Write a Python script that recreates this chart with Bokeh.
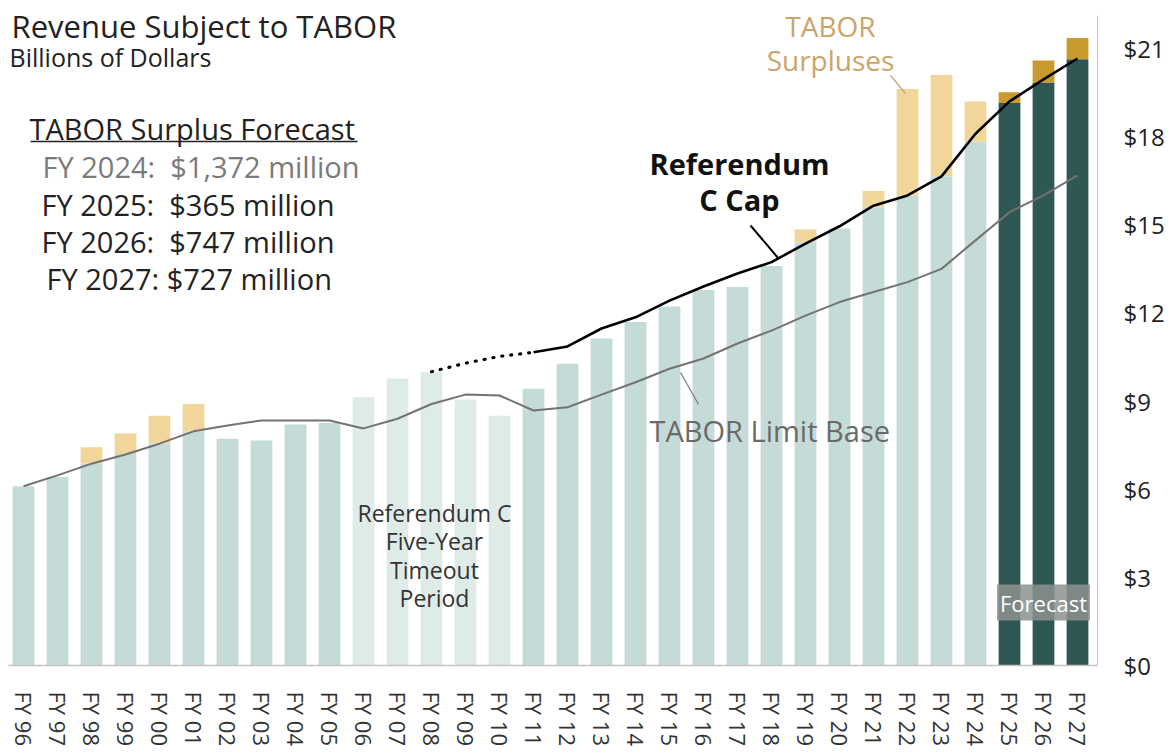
import math
from bokeh.plotting import figure
from bokeh.models import Label, FixedTicker, Range1d, NumeralTickFormatter
from bokeh.embed import file_html
from bokeh.resources import INLINE

# ---------------- data (billions of dollars) ----------------
fiscal_years = ["FY 96", "FY 97", "FY 98", "FY 99", "FY 00", "FY 01", "FY 02", "FY 03",
                "FY 04", "FY 05", "FY 06", "FY 07", "FY 08", "FY 09", "FY 10", "FY 11",
                "FY 12", "FY 13", "FY 14", "FY 15", "FY 16", "FY 17", "FY 18", "FY 19",
                "FY 20", "FY 21", "FY 22", "FY 23", "FY 24", "FY 25", "FY 26", "FY 27"]

revenue_total = [6.10, 6.42, 7.43, 7.90, 8.50, 8.90, 7.72, 7.66, 8.20, 8.25, 9.13, 9.77,
                 9.98, 9.05, 8.50, 9.42, 10.27, 11.13, 11.69, 12.22, 12.78, 12.88, 13.60,
                 14.84, 14.87, 16.15, 19.62, 20.10, 19.20, 19.51, 20.59, 21.36]

tabor_surplus = [0, 0, 0.56, 0.70, 0.94, 0.93, 0, 0, 0, 0, 0, 0, 0, 0, 0, 0, 0, 0, 0, 0,
                 0, 0, 0, 0.43, 0, 0.55, 3.62, 3.45, 1.372, 0.365, 0.747, 0.727]

tabor_limit_base = [6.10, 6.47, 6.87, 7.18, 7.55, 7.97, 8.17, 8.34, 8.34, 8.34, 8.07, 8.40,
                    8.90, 9.22, 9.19, 8.68, 8.79, 9.22, 9.64, 10.10, 10.45, 10.96, 11.40,
                    11.91, 12.37, 12.71, 13.05, 13.50, 14.47, 15.43, 16.00, 16.68]

nan = float("nan")
ref_c_cap = [nan] * 12 + [10.00, 10.29, 10.52, 10.66, 10.86, 11.47, 11.85, 12.42, 12.90,
                          13.34, 13.73, 14.36, 14.95, 15.65, 16.00, 16.65, 18.10, 19.20,
                          19.95, 20.66]

forecast_years = ["FY 25", "FY 26", "FY 27"]
timeout_years = ["FY 06", "FY 07", "FY 08", "FY 09", "FY 10"]
dotted_cap_years = ["FY 08", "FY 09", "FY 10", "FY 11"]

y_ticks = [0, 3, 6, 9, 12, 15, 18, 21]

NB = "\u00a0"
surplus_forecast_text = ["FY 2024:" + NB + " $1,372 million", "FY 2025:" + NB + " $365 million",
                         "FY 2026:" + NB + " $747 million", "FY 2027: $727 million"]

# ---------------- derived ----------------
n = len(fiscal_years)
idx = list(range(n))
base = [t - s for t, s in zip(revenue_total, tabor_surplus)]
is_fc = [fy in forecast_years for fy in fiscal_years]

C_LIGHT = "#c5dbd7"
C_DARK = "#2f5753"
C_SURP = "#f0d69a"
C_SURP_FC = "#c99a2e"
FONT = "Open Sans"

PX_X = 34.0
PX_Y = 29.38
FRAME_W = 1089
FRAME_H = 650
LEFT, TOP = 8, 15
x_start = -15.0 / PX_X
x_end = x_start + FRAME_W / PX_X
y_end = FRAME_H / PX_Y


def X(rx):
    return x_start + (rx - LEFT) / PX_X


def Y(ry):
    return (TOP + FRAME_H - ry) / PX_Y


p = figure(frame_width=FRAME_W, frame_height=FRAME_H,
           x_range=Range1d(x_start, x_end), y_range=Range1d(0, y_end),
           y_axis_location="right", toolbar_location=None, output_backend="svg",
           min_border_left=LEFT, min_border_right=1174 - LEFT - FRAME_W - 2,
           min_border_top=TOP, min_border_bottom=755 - TOP - FRAME_H - 2)
p.grid.visible = False
p.outline_line_color = None
p.background_fill_color = "white"

# bars
p.vbar(x=idx, width=0.64, bottom=0, top=base,
       fill_color=[C_DARK if f else C_LIGHT for f in is_fc], line_color=None)
s_idx = [i for i in idx if tabor_surplus[i] > 0]
p.vbar(x=s_idx, width=0.64, bottom=[base[i] for i in s_idx],
       top=[revenue_total[i] for i in s_idx],
       fill_color=[C_SURP_FC if is_fc[i] else C_SURP for i in s_idx], line_color=None)

# timeout period fade
t_idx = [fiscal_years.index(fy) for fy in timeout_years]
p.quad(left=[min(t_idx) - 0.5], right=[max(t_idx) + 0.5], bottom=[0], top=[y_end],
       fill_color="white", fill_alpha=0.45, line_color=None)

# lines
p.line(idx, tabor_limit_base, line_color="#737373", line_width=2)
d_idx = [fiscal_years.index(fy) for fy in dotted_cap_years]
p.line(d_idx, [ref_c_cap[i] for i in d_idx], line_color="black", line_width=3.2,
       line_dash="1 8", line_cap="round")
solid_idx = [i for i in idx if i >= max(d_idx)]
p.line(solid_idx, [ref_c_cap[i] for i in solid_idx], line_color="black", line_width=2.6)

# leader lines
p.segment(x0=[X(750)], y0=[Y(225)], x1=[X(778)], y1=[Y(258)], line_color="black", line_width=2)
p.segment(x0=[X(680)], y0=[Y(372)], x1=[X(698)], y1=[Y(404)], line_color="#777777", line_width=1.2)
p.segment(x0=[X(890)], y0=[Y(75)], x1=[X(905)], y1=[Y(93)], line_color="#c9a56c", line_width=1.2)
# underline of forecast heading
p.segment(x0=[X(30)], y0=[Y(141)], x1=[X(357)], y1=[Y(141)], line_color="#222222", line_width=1.5)

# axes
p.xaxis.ticker = FixedTicker(ticks=idx)
p.xaxis.major_label_overrides = {i: fy for i, fy in enumerate(fiscal_years)}
p.xaxis.major_label_orientation = "vertical"
p.xaxis.major_label_text_font = FONT
p.xaxis.major_label_text_font_size = "22px"
p.xaxis.major_label_text_color = "#333333"
p.xaxis.major_label_standoff = 20
p.xaxis.axis_line_color = "#c4c4c4"
p.xaxis.axis_line_width = 1.5
p.xaxis.major_tick_line_color = None
p.xaxis.minor_tick_line_color = None

p.yaxis.ticker = FixedTicker(ticks=y_ticks)
p.yaxis.formatter = NumeralTickFormatter(format="$0")
p.yaxis.major_label_text_font = FONT
p.yaxis.major_label_text_font_size = "24px"
p.yaxis.major_label_text_color = "#222222"
p.yaxis.major_label_standoff = 20
p.yaxis.axis_line_color = "#c4c4c4"
p.yaxis.major_tick_line_color = None
p.yaxis.minor_tick_line_color = None


def lab(rx, ry, text, size, color="#222222", align="left", style="normal", **kw):
    p.add_layout(Label(x=X(rx), y=Y(ry), text=text, text_font=FONT, text_font_size=size,
                       text_color=color, text_align=align, text_font_style=style,
                       text_baseline="middle", **kw))


lab(11, 25, "Revenue Subject to TABOR", "31px")
lab(9, 56, "Billions of Dollars", "25px")
lab(29, 128, "TABOR Surplus Forecast", "29px")
lab(42, 166, surplus_forecast_text[0], "29px", color="#7a7a7a")
lab(41, 204, surplus_forecast_text[1], "29px")
lab(41, 241, surplus_forecast_text[2], "29px")
lab(46, 278, surplus_forecast_text[3], "29px")

lab(830, 25, "TABOR", "28px", color="#c9a56c", align="center")
lab(830, 59, "Surpluses", "28px", color="#c9a56c", align="center")
lab(739, 163, "Referendum", "29px", align="center", style="bold", color="#111111")
lab(739, 199, "C Cap", "29px", align="center", style="bold", color="#111111")
lab(649, 430, "TABOR Limit Base", "29px", color="#6a6a6a")

for k, t in enumerate(["Referendum C", "Five-Year", "Timeout", "Period"]):
    lab(434, 512 + 28.5 * k, t, "23px", color="#333333", align="center")

lab(1043, 602, "Forecast", "22px", color="white", align="center",
    background_fill_color="#8c9291", background_fill_alpha=0.85, padding=3)

open("out.html", "w").write(file_html(p, INLINE))
